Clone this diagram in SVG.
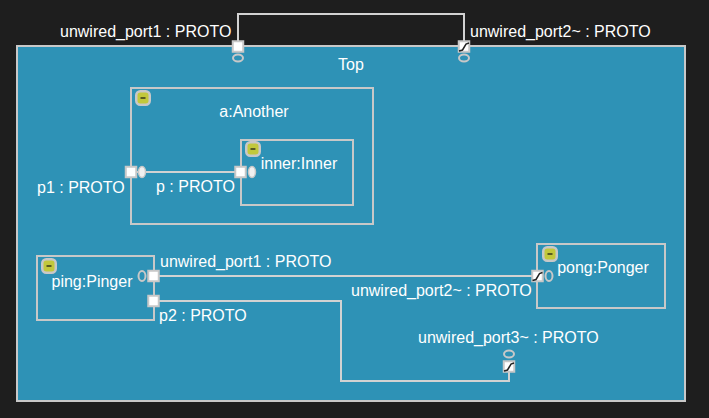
<svg xmlns="http://www.w3.org/2000/svg" width="709" height="418" viewBox="0 0 709 418">
<defs>
<style>
text{font-family:"Liberation Sans",Arial,sans-serif;font-size:16px;fill:#fff}
.box{fill:none;stroke:#c8c8c8;stroke-width:2}
.wire{fill:none;stroke:#d2d2d2;stroke-width:2}
.port{fill:#fff;stroke:#c8c8c8;stroke-width:2}
.ring{fill:none;stroke:#c8c8c8;stroke-width:2}
.ringf{fill:#f0f0f0;stroke:#c8c8c8;stroke-width:1.5}
.sl{fill:none;stroke:#222;stroke-width:1.5}
.btn{fill:#c2c83c;stroke:#c8c8c8;stroke-width:2.5}
.dash{stroke:#111;stroke-width:1.2}
</style>
<g id="btn"><rect x="-6.750" y="-6.750" width="13.500" height="13.500" rx="4" class="btn"/><line x1="-2.500" x2="2.500" y1="0" y2="0" class="dash"/></g>
<g id="prt"><rect x="-5.250" y="-5.250" width="10.500" height="10.500" class="port"/></g>
<g id="cprt"><rect x="-5.250" y="-5.250" width="10.500" height="10.500" class="port"/><path d="M-5 4.500 L-1.500 3.500 L2 -2.500 L5 -3.500" class="sl"/></g>
</defs>
<rect width="709" height="418" fill="#1e1e1e"/>
<g id="top"><rect x="17" y="46" width="668" height="355" fill="#2e92b6" stroke="#c8c8c8" stroke-width="2"/><text x="351" y="70" text-anchor="middle">Top</text></g>
<g id="connectors">
<path class="wire" d="M238 46V14H464V46"/>
<path class="wire" d="M131 172H240"/>
<path class="wire" d="M154 276H537"/>
<path class="wire" d="M154 301H341V381H509V367"/>
</g>
<g id="another"><rect x="131" y="88" width="242" height="136" class="box"/><use href="#btn" x="143" y="98"/><text x="254" y="117" text-anchor="middle">a:Another</text></g>
<g id="inner"><rect x="241" y="140" width="112" height="65" class="box"/><use href="#btn" x="253" y="149"/><text x="299" y="169" text-anchor="middle">inner:Inner</text></g>
<g id="ping"><rect x="37" y="256" width="117" height="64" class="box"/><use href="#btn" x="49" y="266"/><text x="92" y="287" text-anchor="middle">ping:Pinger</text></g>
<g id="pong"><rect x="537" y="244" width="128" height="64" class="box"/><use href="#btn" x="550" y="254"/><text x="603" y="273" text-anchor="middle">pong:Ponger</text></g>
<g id="port-unwired1"><use href="#prt" x="238" y="46.500"/><ellipse cx="238" cy="58" rx="5" ry="3.500" class="ring"/><text x="60" y="37">unwired_port1 : PROTO</text></g>
<g id="port-unwired2"><use href="#cprt" x="464" y="46.500"/><ellipse cx="464" cy="58" rx="5" ry="3.500" class="ring"/><text x="470" y="37">unwired_port2~ : PROTO</text></g>
<g id="port-p1"><use href="#prt" x="131" y="172"/><ellipse cx="142" cy="172" rx="3.500" ry="5.500" class="ringf"/><text x="37" y="193">p1 : PROTO</text></g>
<g id="port-p"><use href="#prt" x="240.500" y="172"/><ellipse cx="252" cy="172" rx="3.500" ry="5.500" class="ringf"/><text x="156" y="192">p : PROTO</text></g>
<g id="port-ping1"><use href="#prt" x="153.500" y="276"/><ellipse cx="142" cy="276" rx="3.500" ry="5" class="ring"/><text x="160" y="267">unwired_port1 : PROTO</text></g>
<g id="port-ping2"><use href="#prt" x="153.500" y="301"/><text x="159" y="321">p2 : PROTO</text></g>
<g id="port-pong"><use href="#cprt" x="537.500" y="276"/><ellipse cx="549" cy="276" rx="3.500" ry="5" class="ring"/><text x="351" y="296">unwired_port2~ : PROTO</text></g>
<g id="port-unwired3"><use href="#cprt" x="509" y="366.500"/><ellipse cx="509" cy="354" rx="5" ry="3.500" class="ring"/><text x="418" y="343">unwired_port3~ : PROTO</text></g>
</svg>
